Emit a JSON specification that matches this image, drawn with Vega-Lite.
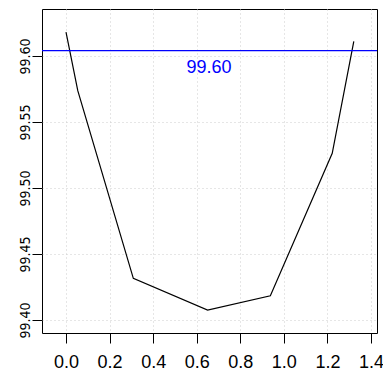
{
  "$schema": "https://vega.github.io/schema/vega-lite/v6.json",
  "width": 335,
  "height": 324,
  "autosize": {"type": "none"},
  "padding": {"left": 42, "top": 9, "right": 6, "bottom": 39},
  "background": "white",
  "config": {
    "view": {"stroke": "black", "strokeWidth": 1},
    "axis": {
      "domain": false,
      "tickColor": "black",
      "tickSize": 10,
      "tickWidth": 1,
      "labelColor": "black",
      "labelFont": "Liberation Sans",
      "title": null,
      "grid": true,
      "gridColor": "#cccccc",
      "gridDash": [1, 3],
      "gridWidth": 1
    }
  },
  "datasets": {
    "curve": [
      {"x": 0.0, "y": 99.618},
      {"x": 0.054, "y": 99.5737},
      {"x": 0.309, "y": 99.4316},
      {"x": 0.65, "y": 99.4076},
      {"x": 0.938, "y": 99.4184},
      {"x": 1.222, "y": 99.5263},
      {"x": 1.321, "y": 99.6111}
    ],
    "ref": [{"h": 99.604, "lx": 0.656, "ly": 99.5909, "label": "99.60"}]
  },
  "layer": [
    {
      "data": {"name": "curve"},
      "mark": {"type": "line", "color": "black", "strokeWidth": 1.2, "clip": true},
      "encoding": {
        "x": {
          "field": "x",
          "type": "quantitative",
          "scale": {"domain": [-0.1102, 1.4275], "nice": false, "zero": false},
          "axis": {
            "values": [0, 0.2, 0.4, 0.6, 0.8, 1.0, 1.2, 1.4],
            "format": ".1f",
            "labelFontSize": 18,
            "labelPadding": 10,
            "labelFlush": false,
            "labelOverlap": false
          }
        },
        "y": {
          "field": "y",
          "type": "quantitative",
          "scale": {"domain": [99.3902, 99.6356], "nice": false, "zero": false},
          "axis": {
            "values": [99.4, 99.45, 99.5, 99.55, 99.6],
            "format": ".2f",
            "labelAngle": -90,
            "labelAlign": "center",
            "labelBaseline": "alphabetic",
            "labelPadding": 3,
            "labelFont": "'Liberation Sans Narrow', 'DejaVu Sans Condensed', sans-serif",
            "labelFontSize": 14,
            "labelFlush": false,
            "labelOverlap": false
          }
        }
      }
    },
    {
      "data": {"name": "ref"},
      "mark": {"type": "rule", "color": "#0000ff", "strokeWidth": 1.3},
      "encoding": {"y": {"field": "h", "type": "quantitative"}}
    },
    {
      "data": {"name": "ref"},
      "mark": {"type": "text", "color": "#0000ff", "font": "Liberation Sans", "fontSize": 18, "align": "center", "baseline": "middle"},
      "encoding": {
        "x": {"field": "lx", "type": "quantitative"},
        "y": {"field": "ly", "type": "quantitative"},
        "text": {"field": "label"}
      }
    }
  ]
}
